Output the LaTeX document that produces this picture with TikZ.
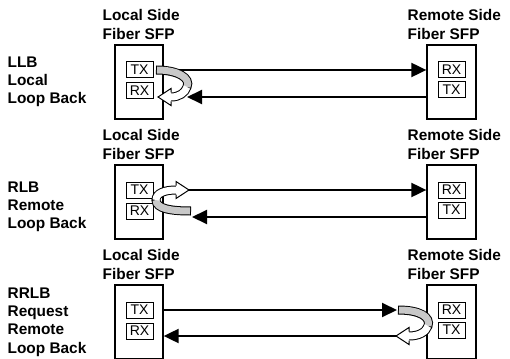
\documentclass[tikz,border=0pt]{standalone}
\usepackage{fontspec}
\setmainfont{Liberation Sans}
\usetikzlibrary{arrows.meta, calc}
\definecolor{cband}{HTML}{C8C8C8}
\tikzset{
  every picture/.style={line width=1.3pt},
  title/.style={font=\bfseries\fontsize{15.4}{19}\selectfont, align=left, anchor=north west, inner sep=0pt},
  mode/.style={font=\bfseries\fontsize{15.4}{18.3}\selectfont, align=left, anchor=north west, inner sep=0pt},
  sfp/.style={draw, line width=1.3pt, minimum width=48pt, minimum height=74pt, inner sep=0pt},
  port/.style={draw, line width=1pt, minimum width=27pt, minimum height=16pt, inner sep=0pt, font=\fontsize{14}{16}\selectfont},
  arrow/.style={-{Triangle[length=15pt, width=14pt]}, line width=2pt},
  bandedge/.style={line width=9pt, draw=black},
  bandfill/.style={line width=7pt, draw=#1},
  bandhead/.style={line width=1pt, line join=miter},
}

\begin{document}
\begin{tikzpicture}[x=1pt, y=-1pt]
  \useasboundingbox (0,0) rectangle (510,358);
  % the three panels
  \foreach \p/\dy in {1/0, 2/120, 3/240} {
    \node[title] (lt\p) at (102,9+\dy) {Local Side\\Fiber SFP};
    \node[title] (rt\p) at (407,9+\dy) {Remote Side\\Fiber SFP};
    \node[sfp] (lbox\p) at (139,82+\dy) {};
    \node[sfp, minimum width=49pt] (rbox\p) at (451.5,82+\dy) {};
    \node[port] (ltx\p) at (139.5,70+\dy) {TX};
    \node[port] (lrx\p) at (139.5,91+\dy) {RX};
    \node[port] (rrx\p) at (451.5,70+\dy) {RX};
    \node[port] (rtx\p) at (451.5,90+\dy) {TX};
  }
  \node[mode] (llb) at (7,56) {LLB\\Local\\Loop Back};
  \node[mode] (rlb) at (7,181) {RLB\\Remote\\Loop Back};
  \node[mode] (rrlb) at (7,287) {RRLB\\Request\\Remote\\Loop Back};

  % LLB
  \coordinate (b1) at (187,97);
  \coordinate (s1) at (156,70);
  \coordinate (f1) at (187,87);
  \coordinate (h1) at (171,97);
  \coordinate (e1) at (158,97);
  \draw[arrow] (ltx1 -| lbox1.east) -- (rrx1 -| rbox1.west);
  \draw[arrow] (rbox1.west |- b1) -- (b1);
  \draw[bandedge] (s1) .. controls (178,70) and (191,78) .. (f1) .. controls (185,93) and (179,97) .. (h1);
  \draw[bandfill=cband, shorten <=1pt] (s1) .. controls (178,70) and (191,78) .. (f1);
  \draw[bandfill=white] (f1) .. controls (185,93) and (179,97) .. (h1);
  \fill[white] (171,88.5) -- (e1) -- (171,105.5) -- cycle;
  \draw[bandhead] (171,92.5) -- (171,88.5) -- (e1) -- (171,105.5) -- (171,101.5);

  % RLB
  \coordinate (b2) at (192,217);
  \coordinate (s2) at (191,211);
  \coordinate (f2) at (156,200);
  \coordinate (h2) at (176,190);
  \coordinate (e2) at (189,190);
  \draw[arrow] (e2) -- (rrx2 -| rbox2.west);
  \draw[arrow] (rbox2.west |- b2) -- (b2);
  \draw[bandedge] (s2) .. controls (172,211) and (156,209) .. (f2) .. controls (156,193) and (165,190) .. (h2);
  \draw[bandfill=cband, shorten <=1pt] (s2) .. controls (172,211) and (156,209) .. (f2);
  \draw[bandfill=white] (f2) .. controls (156,193) and (165,190) .. (h2);
  \fill[white] (176,181.5) -- (e2) -- (176,198.5) -- cycle;
  \draw[bandhead] (176,185.5) -- (176,181.5) -- (e2) -- (176,198.5) -- (176,194.5);

  % RRLB
  \coordinate (b3) at (397,310);
  \coordinate (s3) at (398,310);
  \coordinate (f3) at (428,326);
  \coordinate (h3) at (409,336);
  \coordinate (e3) at (396,336);
  \draw[arrow] (ltx3 -| lbox3.east) -- (b3);
  \draw[arrow] (e3) -- (lbox3.east |- e3);
  \draw[bandedge] (s3) .. controls (420,310) and (431,317) .. (f3) .. controls (426,332) and (419,336) .. (h3);
  \draw[bandfill=cband, shorten <=1pt] (s3) .. controls (420,310) and (431,317) .. (f3);
  \draw[bandfill=white] (f3) .. controls (426,332) and (419,336) .. (h3);
  \fill[white] (409,327.5) -- (e3) -- (409,344.5) -- cycle;
  \draw[bandhead] (409,331.5) -- (409,327.5) -- (e3) -- (409,344.5) -- (409,340.5);
\end{tikzpicture}
\end{document}
